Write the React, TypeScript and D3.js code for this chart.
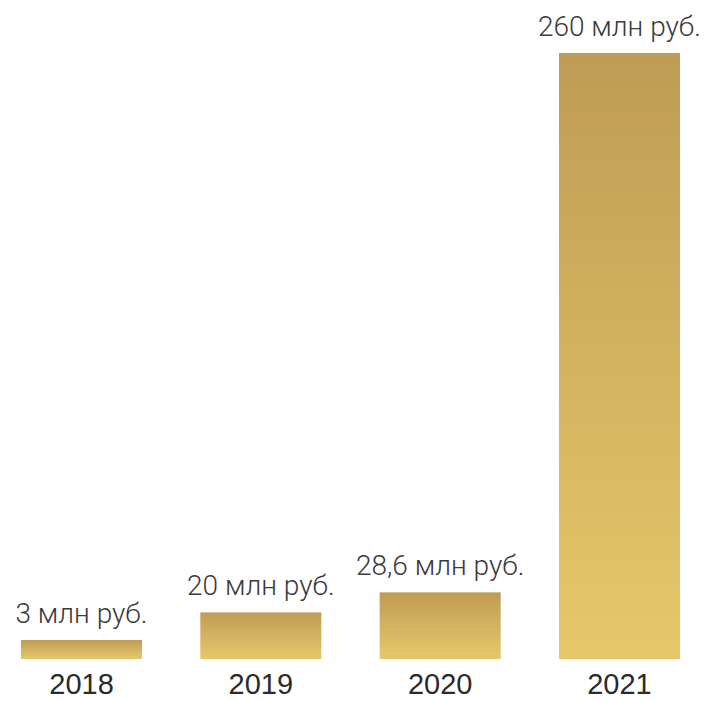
import { useEffect, useRef } from 'react'
import * as d3 from 'd3'

const years = ['2018', '2019', '2020', '2021']
const values = [3, 20, 28.6, 260]
const valueLabels = ['3 млн руб.', '20 млн руб.', '28,6 млн руб.', '260 млн руб.']

export default function App() {
    const svgRef = useRef<SVGSVGElement>(null);

    useEffect(() => {
        if (!svgRef.current) return;

        const svg = d3.select(svgRef.current);
        const width = 706;
        const height = 701;
        const margin = { top: 53, right: 26, bottom: 42, left: 21 };
        const minBar = 19; // tiny values still get a visible bar

        svg.attr('width', width).attr('height', height);
        svg.selectAll('*').remove();

        const x = d3.scaleBand()
            .domain(years)
            .range([margin.left, width - margin.right])
            .paddingInner(0.325)
            .paddingOuter(0);
        const y = d3.scaleLinear()
            .domain([0, d3.max(values) || 0])
            .range([height - margin.bottom, margin.top]);

        const data = years.map((year, i) => ({ year, value: values[i], label: valueLabels[i] }));
        const barTop = (v: number) => Math.min(y(v), y(0) - minBar);

        const grad = svg.append('defs')
            .append('linearGradient')
            .attr('id', 'gold')
            .attr('x1', 0).attr('y1', 0)
            .attr('x2', 0).attr('y2', 1);
        grad.append('stop').attr('offset', '0%').attr('stop-color', '#bf9c54');
        grad.append('stop').attr('offset', '100%').attr('stop-color', '#e6c86b');

        svg.selectAll('.bar')
            .data(data)
            .enter()
            .append('rect')
            .attr('class', 'bar')
            .attr('x', d => x(d.year) || 0)
            .attr('y', d => barTop(d.value))
            .attr('width', x.bandwidth())
            .attr('height', d => y(0) - barTop(d.value))
            .attr('fill', 'url(#gold)');

        svg.selectAll('.value-label')
            .data(data)
            .enter()
            .append('text')
            .attr('class', 'value-label')
            .attr('x', d => (x(d.year) || 0) + x.bandwidth() / 2)
            .attr('y', d => barTop(d.value) - 17)
            .attr('text-anchor', 'middle')
            .attr('font-family', 'Roboto, sans-serif')
            .attr('font-weight', 300)
            .attr('font-size', '28px')
            .attr('fill', '#3a3a3a')
            .text(d => d.label);

        svg.selectAll('.year-label')
            .data(data)
            .enter()
            .append('text')
            .attr('class', 'year-label')
            .attr('x', d => (x(d.year) || 0) + x.bandwidth() / 2)
            .attr('y', height - 7)
            .attr('text-anchor', 'middle')
            .attr('font-family', '"Liberation Sans", Arial, sans-serif')
            .attr('font-size', '29px')
            .attr('fill', '#2b2b2b')
            .text(d => d.year);
    }, []);

    return (
        <div style={{ position: 'absolute', left: 0, top: 0 }}>
            <svg ref={svgRef} style={{ display: 'block' }} />
        </div>
    );
}
